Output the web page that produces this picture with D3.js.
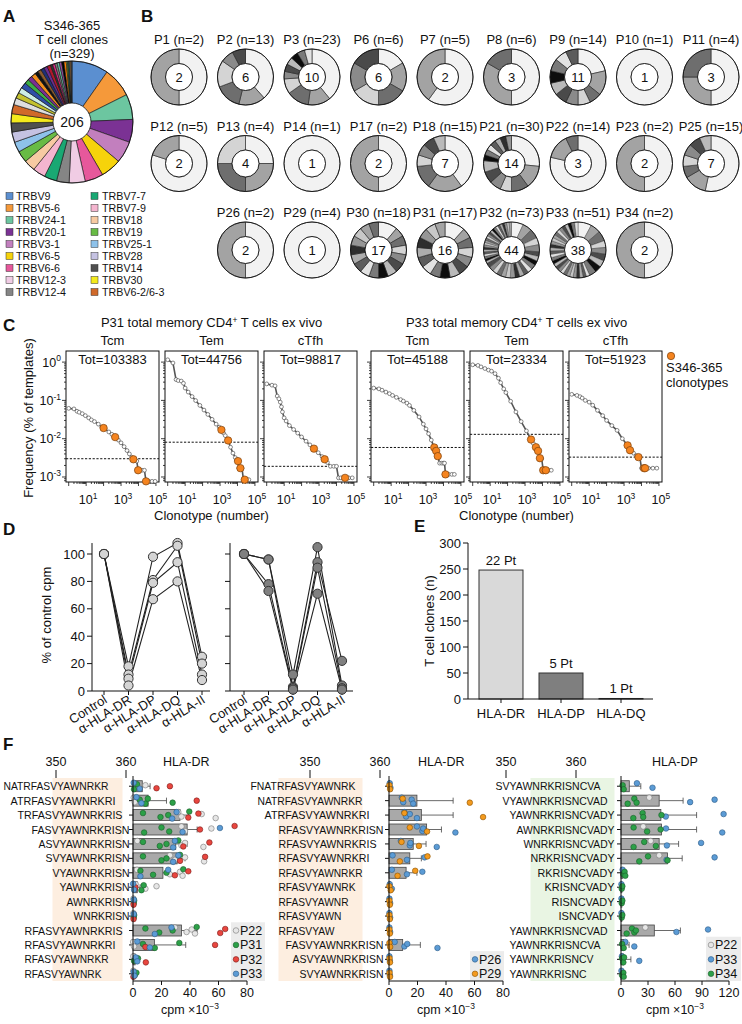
<!DOCTYPE html>
<html><head><meta charset="utf-8">
<script src="https://cdn.jsdelivr.net/npm/d3@7"></script>
<style>body{margin:0;background:#fff}svg{display:block}text{fill:#111}</style>
</head><body><svg id="fig" width="742" height="1024"></svg>
<script>
// ================= DATA =================
// Panel A
const pieTotal = 329;
const pieCenterLabel = "206";
const trbvNames = ["TRBV9","TRBV5-6","TRBV24-1","TRBV20-1","TRBV3-1","TRBV6-5","TRBV6-6","TRBV12-3","TRBV12-4","TRBV7-7","TRBV7-9","TRBV18","TRBV19","TRBV25-1","TRBV28","TRBV14","TRBV30","TRBV6-2/6-3"];
const trbvCounts = [32,26,22,20,19,18,16,14,11,11,11,10,10,9,9,8,8,8];
const trbvColors = ["#5b8fd0","#f5993a","#6cc6a0","#7b3294","#c27fbe","#f6d30b","#e6589b","#f0cce4","#858585","#19a873","#f4b5cf","#f7caa2","#68bb45","#8ec2ea","#c5c2e2","#4f4f4f","#f4ea1c","#d0692a"];
const otherCounts = [6,5,5,5,4,4,4,3,3,3,3,3,2,2,2,2,2,2,2,1,1,1,1,1];
const otherColors = ["#dedede","#c4c22f","#cdeee6","#2f4fa8","#3cae45","#7a2f92","#f28e1c","#111111","#8c5a2b","#1f2f7a","#6a2c91","#b2182b","#333333","#e7298a","#7f7f7f","#66c2a5","#984ea3","#000000","#ff7f00","#a6d854","#4daf4a","#377eb8","#fdb462","#555555"];

// Panel B
const patients = ["P1","P2","P3","P6","P7","P8","P9","P10","P11","P12","P13","P14","P17","P18","P21","P22","P23","P25","P26","P29","P30","P31","P32","P33","P34"];
const patientN = [2,13,23,6,5,6,14,1,4,5,4,1,2,15,30,14,2,15,2,4,18,17,73,51,2];
const clonotypeCounts = [2,6,10,6,2,3,11,1,3,2,4,1,2,7,14,3,2,7,2,1,17,16,44,38,2];
const donutSegments = [
  [1,1],[5,2,2,2,1,1],[9,3,3,2,1,1,1,1,1,1],[1,1,1,1,1,1],[3,2],[3,2,1],[3,2,1,1,1,1,1,1,1,1,1],[1],[2,1,1],
  [4,1],[1,1,1,1],[1],[1,1],[6,3,2,1,1,1,1],[8,4,3,2,2,2,2,1,1,1,1,1,1,1],[11,2,1],[1,1],[8,2,1,1,1,1,1],
  [1,1],[4],[2,1,1,1,1,1,1,1,1,1,1,1,1,1,1,1,1],[2,1,1,1,1,1,1,1,1,1,1,1,1,1,1,1],
  [5,4,4,3,3,2,2,2,2,2,2,2,2,2,2,2,2,2,2,2,1,1,1,1,1,1,1,1,1,1,1,1,1,1,1,1,1,1,1,1,1,1,1,1],
  [4,3,3,2,2,2,2,2,2,1,1,1,1,1,1,1,1,1,1,1,1,1,1,1,1,1,1,1,1,1,1,1,1,1,1,1,1,1],
  [1,1]
];
const donutGrays = ["#a3a3a3","#6e6e6e","#d4d4d4","#8a8a8a","#4a4a4a","#bababa","#0d0d0d","#7a7a7a","#e2e2e2","#5c5c5c","#adadad","#2e2e2e","#969696","#c8c8c8"];

// Panel C
const cGroupTitles = ["P31","P33"];
const cSubsets = ["Tcm","Tem","cTfh","Tcm","Tem","cTfh"];
const cTotals = ["Tot=103383","Tot=44756","Tot=98817","Tot=45188","Tot=23334","Tot=51923"];
const cRanks = [
  [1,2,3,4,6,9,14,20,30,50,80,120,200,300,460,700,1000,1500,2200,3000,4000,5100,6500,8000,9500,12000,16000,22000,27000,40000,60000,90000],
  [1,2,3,4,6,8,10,15,25,40,70,120,200,350,600,900,1200,1600,2000,2900,4000,5500,7500,9000,10700,12000,14700,18000,22000,26000,35000,45000],
  [1,2,3,4,5,6,7,8,10,13,20,35,60,100,180,300,510,900,1500,2100,3000,4500,7000,10000,13000,18000,31000,50000,80000],
  [1,2,3,5,8,12,20,35,50,80,112,200,400,700,1000,1400,2000,2950,3800,4700,6000,8000,10000,11500,13000,20000,30000,42000],
  [1,2,3,5,8,12,19,30,40,60,80,150,300,600,1200,2200,3000,4200,5600,7100,9000,11000,15500,22000,32000],
  [1,2,3,4,6,10,16,30,60,100,200,400,800,1600,2200,3500,5000,6700,8000,10000,14000,25000,45000,76000]
];
const cFreqs = [
  [0.062,0.060,0.052,0.049,0.045,0.040,0.035,0.031,0.028,0.024,0.020,0.018,0.015,0.013,0.011,0.0092,0.0078,0.0062,0.0049,0.0040,0.0033,0.0028,0.0027,0.0026,0.0015,0.0015,0.0015,0.0015,0.00077,0.00077,0.00077,0.00077],
  [1.15,0.95,0.35,0.33,0.32,0.28,0.21,0.165,0.126,0.099,0.074,0.056,0.043,0.032,0.024,0.020,0.017,0.014,0.012,0.009,0.006,0.0042,0.0032,0.0028,0.0026,0.0017,0.0017,0.0017,0.00085,0.00085,0.00085,0.00085],
  [0.27,0.25,0.24,0.13,0.11,0.09,0.068,0.05,0.035,0.029,0.022,0.0174,0.014,0.0111,0.0086,0.0069,0.0055,0.0043,0.0034,0.0029,0.0024,0.0019,0.0019,0.0019,0.00095,0.00095,0.00095,0.00095,0.00095],
  [0.21,0.20,0.185,0.165,0.15,0.135,0.12,0.105,0.096,0.085,0.074,0.055,0.037,0.024,0.018,0.0135,0.0092,0.0059,0.0048,0.0035,0.0023,0.0023,0.0023,0.0023,0.00117,0.00117,0.00117,0.00117],
  [0.85,0.82,0.75,0.68,0.62,0.58,0.5,0.38,0.29,0.2,0.16,0.095,0.05,0.028,0.016,0.0095,0.0075,0.006,0.0048,0.0031,0.003,0.0015,0.0015,0.0015,0.0015],
  [0.144,0.135,0.125,0.115,0.10,0.09,0.075,0.055,0.04,0.03,0.022,0.0165,0.01,0.0067,0.005,0.0042,0.0036,0.0033,0.0033,0.0017,0.0017,0.0017,0.0017,0.0017]
];
const cOrangeRanks = [[100,460,5100,9500,27000],[1200,2900,10700,14700,26000],[510,2100,31000],[2950,3800,4700,13000],[2200,4200,5600,7100,11000,15500],[1600,2200,6700,14000,16000]];
const cOrangeFreqs = [[0.019,0.011,0.0029,0.0015,0.00077],[0.017,0.009,0.0026,0.0017,0.00085],[0.0055,0.0029,0.00095],[0.0059,0.0048,0.0035,0.00117],[0.0095,0.006,0.0048,0.0031,0.0015,0.0015],[0.0067,0.005,0.0033,0.0017,0.0017]];
const cThresholds = [0.0030,0.0081,0.0019,0.0059,0.013,0.0033];

// Panel D
const dCategories = ["Control","\u03b1-HLA-DR","\u03b1-HLA-DP","\u03b1-HLA-DQ","\u03b1-HLA-II"];
const dLeftSeries = [[100,18,98,108,25],[100,12,81,106,20],[100,9,79,94,12],[100,4,67,80,8]];
const dRightSeries = [[100,96,12,105,4],[100,96,3,94,22],[100,78,2,90,2],[100,73,1,71,1]];
const dTicks = [0,20,40,60,80,100];

// Panel E
const eCategories = ["HLA-DR","HLA-DP","HLA-DQ"];
const eValues = [248,50,1];
const eBarLabels = ["22 Pt","5 Pt","1 Pt"];
const eTicks = [0,50,100,150,200,250,300];

// Panel F
const spikeSeq342 = "FNATRFASVYAWNRKRISNCVADY";
const fResidueTicks = [350,360];
// F1: HLA-DR (P22, P31, P32, P33)
const f1Peptides = ["NATRFASVYAWNRKR","ATRFASVYAWNRKRI","TRFASVYAWNRKRIS","FASVYAWNRKRISN","ASVYAWNRKRISN","SVYAWNRKRISN","VYAWNRKRISN","YAWNRKRISN","AWNRKRISN","WNRKRISN","RFASVYAWNRKRIS","RFASVYAWNRKRI","RFASVYAWNRKR","RFASVYAWNRK"];
const f1Mean = [6.5,10.6,33,38,30,31,21,3,0.5,0.5,34,15,1.5,0.5];
const f1Err = [12,23.5,39,45,38,36.5,26,5,1,1,45,37,3,1];
const f1P22 = [[1.2,4.2,8.7],[0.5,1.2],[31.8,34,48.2,58],[34,36.5,55],[3,34,36.5,49.4],[25.9,29.4,36.5,49.9],[2.8,25.9,33,34.8],[1.9,8.7,16.5],[0.3],[0.3],[29.4,37.6,41.2,43.5],[0.1,0.7],[0.2],[0.2]];
const f1P31 = [[0.7,2.8],[4.7,8.7,10.4,27.8],[7,19.3,24.7,39.5],[7.8,20,25.4],[7,18.8,23.5,31.8],[7,20,23.5,33],[5.2,14.1,23.5,35.3],[5.9,7.5],[0.5,0.8],[0.5,0.8],[8.7,18.4,27.8,44.7],[7,15.3,32.5],[0.7,3.5],[1.2,2.4]];
const f1P32 = [[16.5,25.9],[44.7],[38.8,45.9],[47,71.3],[35.3,53.6],[33,50.6],[29.4,38.8],[1.2,1.6],[0.4],[0.4],[61.2,64.7],[8.7,57.6],[9],[0.3]];
const f1P33 = [[0.5,4.7],[2.4,5.9],[27.5,30.6],[34.8,61],[28.2,29.4],[28.2,31.8],[5.2,24.7],[0.1,0.7],[0.6],[0.6],[15.3,27],[3,11.8],[1.9,3],[0.5,1]];
// F2: HLA-DR (P26, P29)
const f2Peptides = ["FNATRFASVYAWNRK","NATRFASVYAWNRKR","ATRFASVYAWNRKRI","RFASVYAWNRKRISN","RFASVYAWNRKRIS","RFASVYAWNRKRI","RFASVYAWNRKR","RFASVYAWNRK","RFASVYAWNR","RFASVYAWN","RFASVYAW","FASVYAWNRKRISN","ASVYAWNRKRISN","SVYAWNRKRISN"];
const f2Mean = [0.5,19.6,22.7,26.4,17,14.6,12,1,0.5,0.5,0.5,9.6,0.5,0.5];
const f2Err = [1,45,45,36.8,26,22.7,19.6,2,1,1,1,22,1,1];
const f2P26 = [[0.5,1],[9,10,15.9,17],[10.8,12,14.6,19.6],[19.6,23.4,24,46.6],[8.3,14.6,15,33.5],[2.5,12.6,25],[2,12.6,23.4],[0.5,2],[0.3,0.8],[0.3,0.8],[0.3,0.8],[4,10.8,12.8,34],[0.3,0.6],[0.3,0.6]];
const f2P29 = [[0.3,0.8],[9.6,56.7],[10.8,66],[14.6,26.7],[8.8,21],[7.6,27],[6,18.4],[0.3,1.2],[0.3,0.6],[0.3,0.6],[0.3,0.6],[0.3,0.8],[0.4,0.7],[0.4,0.7]];
// F3: HLA-DP (P22, P33, P34)
const f3Peptides = ["SVYAWNRKRISNCVA","VYAWNRKRISNCVAD","YAWNRKRISNCVADY","AWNRKRISNCVADY","WNRKRISNCVADY","NRKRISNCVADY","RKRISNCVADY","KRISNCVADY","RISNCVADY","ISNCVADY","YAWNRKRISNCVAD","YAWNRKRISNCVA","YAWNRKRISNCV","YAWNRKRISNC"];
const f3Mean = [9.2,42.4,44.3,45,42.4,51.7,2,1,1,1,37,3,2.6,1];
const f3Err = [22,69,84,84,64,68,3.5,1.5,1.5,1.5,66,9,11,1.5];
const f3P22 = [[],[31.4],[23.2],[24.7,29],[33],[42.4],[],[],[],[],[27],[],[],[]];
const f3P33 = [[17.7,35],[76.8,104],[49.8,114],[50,112.5],[51,89],[50.6,104],[1.8],[0.5],[0.5],[0.5],[61.6,96.7],[4.8,14.8],[1,20.3],[0.5]];
const f3P34 = [[1.8,3],[7.4,14.8,17.3],[13.7,24,24.7,45],[14,29,44],[14,25.8,38.7],[20.3,30,51.7],[2.6,4,4.8],[0.8,1.5],[0.8,1.5],[0.8,1.5],[6.3,12.2,14.8,16.6],[1.2,3],[1.2,2.6,3.4],[1.2,2.6,3]];

// ================= DRAWING =================
const svg = d3.select("#fig").attr("font-family",'"Liberation Sans", Arial, Helvetica, sans-serif');
function txt(g,s,x,y,size,anchor,weight){
  return g.append("text").attr("x",x).attr("y",y).attr("font-size",size).attr("text-anchor",anchor||"start").attr("font-weight",weight||"normal").text(s);
}
function supTxt(g,base,sup,x,y,size,anchor){
  const t=g.append("text").attr("x",x).attr("y",y).attr("font-size",size).attr("text-anchor",anchor||"start");
  t.append("tspan").text(base);
  t.append("tspan").attr("dy",-size*0.42).attr("font-size",size*0.68).text(sup);
  return t;
}
function line(g,x1,y1,x2,y2,w,c,dash){
  const l=g.append("line").attr("x1",x1).attr("y1",y1).attr("x2",x2).attr("y2",y2).attr("stroke",c||"#111").attr("stroke-width",w||1);
  if(dash) l.attr("stroke-dasharray",dash);
  return l;
}

// panel letters
[["A",3,22],["B",141,22],["C",3,331],["D",3,535],["E",414,532],["F",3,750]].forEach(d=>txt(svg,d[0],d[1],d[2],17,"start","bold"));

// ---------- A ----------
{
  const g=svg.append("g");
  txt(g,"S346-365",72,30,13,"middle");
  txt(g,"T cell clones",72,44,13,"middle");
  txt(g,"(n="+pieTotal+")",72,58,13,"middle");
  const pieData=trbvCounts.map((c,i)=>({count:c,color:trbvColors[i]})).concat(otherCounts.map((c,i)=>({count:c,color:otherColors[i]})));
  const pie=d3.pie().sort(null).value(d=>d.count);
  const arc=d3.arc().innerRadius(0).outerRadius(61);
  const pg=g.append("g").attr("transform","translate(72,122)");
  pg.selectAll("path").data(pie(pieData)).join("path").attr("d",arc).attr("fill",d=>d.data.color).attr("stroke","#111").attr("stroke-width",0.6);
  pg.append("circle").attr("r",61).attr("fill","none").attr("stroke","#111").attr("stroke-width",0.8);
  pg.append("circle").attr("r",19).attr("fill","#fff").attr("stroke","#111").attr("stroke-width",0.8);
  txt(pg,pieCenterLabel,0,5,14,"middle");
  trbvNames.forEach((n,i)=>{
    const col=i<9?0:1,row=i%9;
    const y=196+row*12;
    g.append("rect").attr("x",col?91:6).attr("y",y-3.5).attr("width",7).attr("height",7).attr("fill",trbvColors[i]).attr("stroke","#333").attr("stroke-width",0.5);
    txt(g,n,col?102:16,y+3.9,10.7,"start");
  });
}

// ---------- B ----------
{
  const g=svg.append("g");
  const arc=d3.arc().innerRadius(13.5).outerRadius(28);
  const pie=d3.pie().sort(null).value(d=>d);
  patients.forEach((p,i)=>{
    const row=i<9?0:(i<18?1:2);
    const col=i<18?i%9:i-18+1;
    const cx=179+col*66.5, cy=77+row*86.5;
    txt(g,p+" (n="+patientN[i]+")",cx,cy-33,13,"middle");
    const dg=g.append("g").attr("transform",`translate(${cx},${cy})`);
    dg.selectAll("path").data(pie(donutSegments[i])).join("path").attr("d",arc)
      .attr("fill",(d,j)=>j===0?"#f2f2f2":donutGrays[(j-1)%donutGrays.length])
      .attr("stroke","#222").attr("stroke-width",donutSegments[i].length>30?0.35:0.6);
    dg.append("circle").attr("r",28).attr("fill","none").attr("stroke","#111").attr("stroke-width",0.9);
    dg.append("circle").attr("r",13.5).attr("fill","#fff").attr("stroke","#111").attr("stroke-width",0.9);
    txt(dg,String(clonotypeCounts[i]),0,4.5,13,"middle");
  });
}

// ---------- C ----------
{
  const g=svg.append("g");
  const cx0=[66,165,264,371,470,569], cw=93, top=351, bot=482;
  const xC=d3.scaleLog().domain([0.7,1.5e5]).range([0,cw]);
  const yC=d3.scaleLog().domain([0.00074,1.95]).range([bot,top]);
  [211.5,516.5].forEach((x,k)=>{
    const t=g.append("text").attr("x",x).attr("y",327).attr("font-size",13).attr("text-anchor","middle");
    t.append("tspan").text(cGroupTitles[k]+" total memory CD4");
    t.append("tspan").attr("dy",-4.5).attr("font-size",8.5).text("+");
    t.append("tspan").attr("dy",4.5).text(" T cells ex vivo");
    txt(g,"Clonotype (number)",x,520,13,"middle");
  });
  txt(g,"Frequency (% of templates)",0,0,13,"middle").attr("transform","translate(33,418) rotate(-90)");
  cSubsets.forEach((s,i)=>{
    const pg=g.append("g").attr("transform",`translate(${cx0[i]},0)`);
    txt(pg,s,cw/2,345,13,"middle");
    pg.append("rect").attr("x",0).attr("y",top).attr("width",cw).attr("height",bot-top).attr("fill","none").attr("stroke","#111").attr("stroke-width",1);
    txt(pg,cTotals[i],cw/2,364,13,"middle");
    for(let k=0;k<=5;k++){
      for(let m=1;m<10;m++){
        const v=m*Math.pow(10,k); if(v<0.7||v>1.5e5) continue;
        const x=xC(v); line(pg,x,bot,x,bot+(m===1?4:2),0.8);
      }
      if(k%2===1) supTxt(pg,"10",String(k),xC(Math.pow(10,k))+2,504,12.5,"middle");
    }
    for(let k=-4;k<=0;k++){
      for(let m=1;m<10;m++){
        const v=m*Math.pow(10,k); if(v<0.00074||v>1.95) continue;
        const y=yC(v); line(pg,0,y,-(m===1?4:2),y,0.8);
      }
      if(i===0 && k>=-3) supTxt(pg,"10",String(k),-5,yC(Math.pow(10,k))+4.5,12.5,"end");
    }
    line(pg,0,yC(cThresholds[i]),cw,yC(cThresholds[i]),1,"#111","2.2,1.6");
    const pts=cRanks[i].map((r,j)=>[xC(r),yC(cFreqs[i][j])]);
    pg.append("path").attr("d",d3.line()(pts)).attr("fill","none").attr("stroke","#555").attr("stroke-width",1.6);
    pg.selectAll("circle.o").data(pts).join("circle").attr("class","o").attr("cx",d=>d[0]).attr("cy",d=>d[1]).attr("r",1.9)
      .attr("fill","#fff").attr("stroke","#555").attr("stroke-width",0.7);
    pg.selectAll("circle.s").data(cOrangeRanks[i].map((r,j)=>[xC(r),yC(cOrangeFreqs[i][j])])).join("circle").attr("class","s")
      .attr("cx",d=>d[0]).attr("cy",d=>d[1]).attr("r",3.7).attr("fill","#f5841f").attr("stroke","#7a3f0c").attr("stroke-width",0.7);
  });
  g.append("circle").attr("cx",671).attr("cy",356).attr("r",3.7).attr("fill","#f5841f").attr("stroke","#7a3f0c").attr("stroke-width",0.7);
  txt(g,"S346-365",666,372,13,"start");
  txt(g,"clonotypes",666,387,13,"start");
}

// ---------- D ----------
{
  const g=svg.append("g");
  const yD=d3.scaleLinear().domain([0,100]).range([691,554]);
  const panels=[{x0:92,x1:210,r:[104,202],series:dLeftSeries,fill:"#d4d4d4",lab:true},{x0:230,x1:353,r:[244,342],series:dRightSeries,fill:"#808080",lab:false}];
  panels.forEach(p=>{
    const x=d3.scalePoint().domain(dCategories).range(p.r);
    line(g,p.x0,yD(0),p.x0,yD(108),1);
    line(g,p.x0,yD(0),p.x1,yD(0),1);
    dTicks.forEach(t=>{line(g,p.x0,yD(t),p.x0-5,yD(t),1); if(p.lab) txt(g,String(t),p.x0-7,yD(t)+4.5,13,"end");});
    dCategories.forEach(c=>{
      line(g,x(c),yD(0),x(c),yD(0)+4,1);
      txt(g,c,0,0,13,"end").attr("transform",`translate(${x(c)+4},${yD(0)+11}) rotate(-32)`);
    });
    p.series.forEach(s=>{
      g.append("path").attr("d",d3.line()(s.map((v,j)=>[x(dCategories[j]),yD(v)]))).attr("fill","none").attr("stroke","#222").attr("stroke-width",1.1);
    });
    p.series.forEach(s=>{
      s.forEach((v,j)=>g.append("circle").attr("cx",x(dCategories[j])).attr("cy",yD(v)).attr("r",4.6).attr("fill",p.fill).attr("stroke","#333").attr("stroke-width",1));
    });
  });
  txt(g,"% of control cpm",0,0,13,"middle").attr("transform","translate(51,615) rotate(-90)");
}

// ---------- E ----------
{
  const g=svg.append("g");
  const yE=d3.scaleLinear().domain([0,300]).range([699,543]);
  const xE=d3.scaleBand().domain(eCategories).range([470,652]).paddingInner(0.267).paddingOuter(0.15);
  const fills=["#d9d9d9","#7f7f7f","#9a9a9a"];
  eCategories.forEach((c,i)=>{
    g.append("rect").attr("x",xE(c)).attr("y",yE(eValues[i])).attr("width",xE.bandwidth()).attr("height",yE(0)-yE(eValues[i]))
      .attr("fill",fills[i]).attr("stroke","#333").attr("stroke-width",1);
    txt(g,eBarLabels[i],xE(c)+xE.bandwidth()/2,yE(eValues[i])-5,13,"middle");
    line(g,xE(c)+xE.bandwidth()/2,yE(0),xE(c)+xE.bandwidth()/2,yE(0)+4,1);
    txt(g,c,xE(c)+xE.bandwidth()/2,718,13,"middle");
  });
  line(g,468,yE(0),468,yE(300),1);
  line(g,468,yE(0),653,yE(0),1);
  eTicks.forEach(t=>{line(g,468,yE(t),463,yE(t),1); txt(g,String(t),461,yE(t)+4.5,13,"end");});
  txt(g,"T cell clones (n)",0,0,13,"middle").attr("transform","translate(434,621) rotate(-90)");
}

// ---------- F ----------
{
  const g=svg.append("g");
  const pitch=7.0, rowTop=779, rowBot=981;
  const yF=d3.scaleBand().domain(d3.range(14)).range([rowTop,rowBot]);
  const jit=[-3,1.5,-1,3,-2,2,0,-3.5,2.5,-1.5,3.5];
  const styles={P22:["#e6e6e6","#777"],P31:["#2ca048","#1b5e2a"],P34:["#2ca048","#1b5e2a"],P32:["#e8463f","#7a1d1a"],P33:["#5b9bd5","#2d5a85"],P26:["#5b9bd5","#2d5a85"],P29:["#f39a1e","#8a5000"]};
  const panels=[
    {pep:f1Peptides,mean:f1Mean,err:f1Err,groups:[["P22",f1P22],["P31",f1P31],["P32",f1P32],["P33",f1P33]],res350:56,x0:133,w:114,max:80,ticks:[0,20,40,60,80],band:[350,359],bandColor:"#fdeee0",title:"HLA-DR",titleX:163,leg:{x:231,w:34,first:10}},
    {pep:f2Peptides,mean:f2Mean,err:f2Err,groups:[["P26",f2P26],["P29",f2P29]],res350:310,x0:389,w:114,max:80,ticks:[0,20,40,60,80],band:[346,357],bandColor:"#fdeee0",title:"HLA-DR",titleX:418,leg:{x:470,w:34,first:12}},
    {pep:f3Peptides,mean:f3Mean,err:f3Err,groups:[["P22",f3P22],["P33",f3P33],["P34",f3P34]],res350:506,x0:621,w:108,max:120,ticks:[0,30,60,90,120],band:[354,365],bandColor:"#e9f5e3",title:"HLA-DP",titleX:652,leg:{x:706,w:35,first:11}}
  ];
  panels.forEach(p=>{
    const rx=r=>p.res350+(r-350)*pitch;
    const x=d3.scaleLinear().domain([0,p.max]).range([p.x0,p.x0+p.w]);
    g.append("rect").attr("x",rx(p.band[0])-pitch/2).attr("y",rowTop-1).attr("width",(p.band[1]-p.band[0]+1)*pitch).attr("height",rowBot-rowTop+1).attr("fill",p.bandColor);
    fResidueTicks.forEach(r=>{txt(g,String(r),rx(r),766,12.5,"middle"); line(g,rx(r),770,rx(r),778,1);});
    txt(g,p.title,p.titleX,766,12.5,"start");
    g.append("rect").attr("x",p.leg.x).attr("y",yF(p.leg.first)-1).attr("width",p.leg.w).attr("height",rowBot-yF(p.leg.first)+1).attr("fill","#ececec");
    p.groups.forEach((gr,k)=>{
      const yc=yF(p.leg.first+k)+yF.bandwidth()/2;
      g.append("circle").attr("cx",p.leg.x+5).attr("cy",yc).attr("r",2.8).attr("fill",styles[gr[0]][0]).attr("stroke",styles[gr[0]][1]).attr("stroke-width",0.6);
      txt(g,gr[0],p.leg.x+9,yc+4.5,12.5,"start");
    });
    p.pep.forEach((s,i)=>{
      const yc=yF(i)+yF.bandwidth()/2;
      const start=342+spikeSeq342.indexOf(s);
      g.append("text").attr("x",rx(start)-pitch/2).attr("y",yc+4).attr("font-size",11.5).attr("textLength",s.length*pitch).attr("lengthAdjust","spacingAndGlyphs").text(s);
      line(g,p.x0-4,yc,p.x0,yc,1);
      const bh=11;
      g.append("rect").attr("x",x(0)).attr("y",yc-bh/2).attr("width",x(p.mean[i])-x(0)).attr("height",bh).attr("fill","#a9a9a9").attr("stroke","#444").attr("stroke-width",0.8);
      if(p.err[i]>p.mean[i]+0.6){
        line(g,x(p.mean[i]),yc,x(p.err[i]),yc,0.8,"#444");
        line(g,x(p.err[i]),yc-3,x(p.err[i]),yc+3,0.8,"#444");
      }
      let k=0;
      p.groups.forEach(gr=>{
        gr[1][i].forEach(v=>{
          g.append("circle").attr("cx",x(v)).attr("cy",yc+jit[k%jit.length]).attr("r",2.8)
            .attr("fill",styles[gr[0]][0]).attr("stroke",styles[gr[0]][1]).attr("stroke-width",0.6);
          k++;
        });
      });
    });
    line(g,p.x0,rowTop-3,p.x0,rowBot,1);
    line(g,p.x0,rowBot,p.x0+p.w,rowBot,1);
    p.ticks.forEach(t=>{line(g,x(t),rowBot,x(t),rowBot+4,1); txt(g,String(t),x(t),997,12.5,"middle");});
    const t=g.append("text").attr("x",p.x0+p.w/2).attr("y",1014).attr("font-size",12.5).attr("text-anchor","middle");
    t.append("tspan").text("cpm \u00d710");
    t.append("tspan").attr("dy",-5).attr("font-size",8.5).text("\u22123");
  });
}
</script></body></html>
